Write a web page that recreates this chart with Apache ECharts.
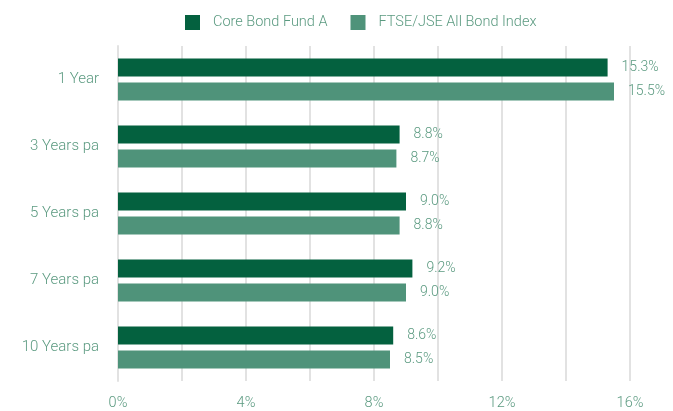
<!DOCTYPE html>
<html lang="en">
<head>
<meta charset="UTF-8" />
<title>Bond fund performance</title>
<script src="https://cdn.jsdelivr.net/npm/echarts@6/dist/echarts.min.js"></script>
<style>
  html, body { margin: 0; padding: 0; background: #ffffff; }
  #chart { width: 673px; height: 411px; }
</style>
</head>
<body>
<div id="chart"></div>
<script>
var periods = ['1 Year', '3 Years pa', '5 Years pa', '7 Years pa', '10 Years pa'];
var fundValues = [15.3, 8.8, 9.0, 9.2, 8.6];
var indexValues = [15.5, 8.7, 8.8, 9.0, 8.5];
var seriesNames = ['Core Bond Fund A', 'FTSE/JSE All Bond Index'];

var textColor = '#5b9a80';
var fontFam = 'Roboto';

var chart = echarts.init(document.getElementById('chart'));

function barLabel() {
  return {
    show: true,
    position: 'right',
    distance: 14,
    color: textColor,
    fontFamily: fontFam,
    fontWeight: 300,
    fontSize: 14,
    formatter: function (p) { return p.value.toFixed(1) + '%'; }
  };
}

var option = {
  animation: false,
  backgroundColor: '#ffffff',
  color: ['#04613f', '#4f937a'],
  legend: {
    top: 10,
    left: 180,
    itemWidth: 15,
    itemHeight: 15,
    itemGap: 23,
    icon: 'rect',
    textStyle: { color: textColor, fontFamily: fontFam, fontWeight: 300, fontSize: 14.5, padding: [0, 0, 0, 8] },
    data: seriesNames
  },
  grid: { left: 118, right: 43, top: 46, bottom: 29, containLabel: false },
  xAxis: {
    type: 'value',
    min: 0,
    max: 16,
    interval: 2,
    axisLine: { show: false },
    axisTick: { show: false },
    splitLine: { lineStyle: { color: '#e2e2e2', width: 2 } },
    axisLabel: {
      margin: 15,
      color: textColor,
      fontFamily: fontFam,
      fontWeight: 300,
      fontSize: 14.5,
      formatter: function (v) { return v % 4 === 0 ? v + '%' : ''; }
    }
  },
  yAxis: {
    type: 'category',
    inverse: true,
    data: periods,
    axisLine: { show: true, lineStyle: { color: '#e2e2e2', width: 2 } },
    axisTick: { show: false },
    axisLabel: { margin: 19, color: textColor, fontFamily: fontFam, fontWeight: 300, fontSize: 15 }
  },
  series: [
    {
      name: seriesNames[0],
      type: 'bar',
      data: fundValues,
      barWidth: 18,
      barGap: '33%',
      label: barLabel()
    },
    {
      name: seriesNames[1],
      type: 'bar',
      data: indexValues,
      barWidth: 18,
      barGap: '33%',
      label: barLabel()
    }
  ]
};
chart.setOption(option);
</script>
</body>
</html>
